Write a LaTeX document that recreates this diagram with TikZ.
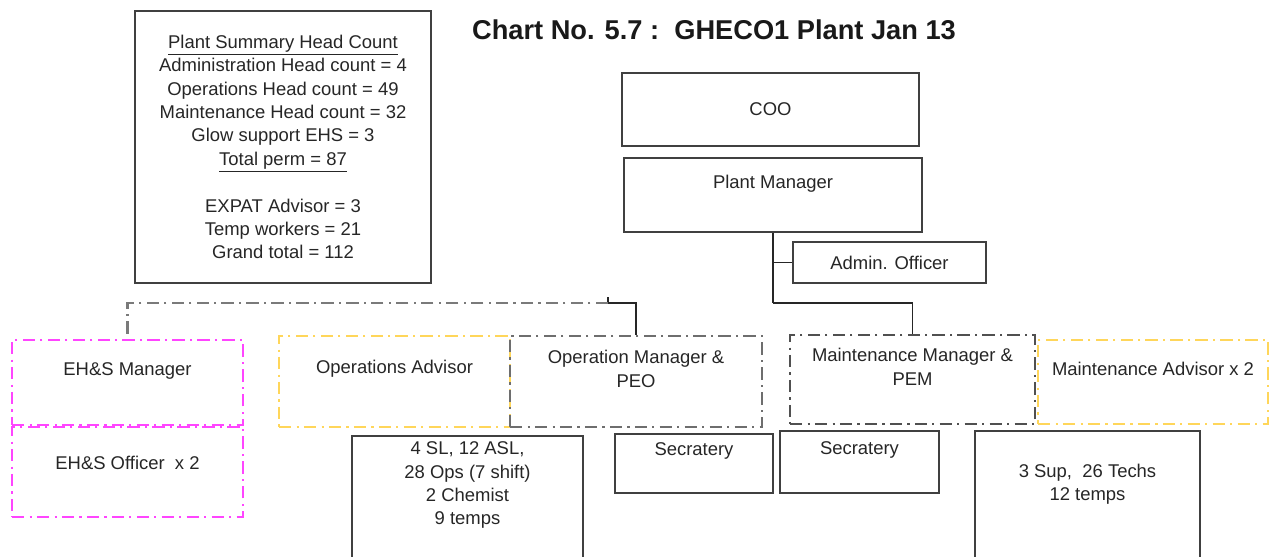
\documentclass[tikz,border=0pt]{standalone}
\usepackage{fontspec}
\setsansfont{Liberation Sans}
\usetikzlibrary{positioning, calc}

\definecolor{ehsmagenta}{HTML}{FF45FF}
\definecolor{advyellow}{HTML}{FFD65A}
\definecolor{mgrgray}{HTML}{6E6E6E}
\definecolor{maintgray}{HTML}{505050}
\definecolor{linegray}{HTML}{7A7A7A}

\begin{document}
\begin{tikzpicture}[
		x=0.02cm, y=-0.02cm,
		font=\sffamily\fontsize{10.5}{13.3}\selectfont,
		% Box styles
		solidbox/.style={draw=black!75, line width=0.85pt, inner sep=0pt, align=center, text=black!85},
		dashbox/.style={line width=1.3pt, inner sep=0pt, dash pattern=on 7pt off 3pt on 1.2pt off 3pt},
		ehsbox/.style={dashbox, draw=ehsmagenta},
		advbox/.style={dashbox, draw=advyellow},
		mgrbox/.style={dashbox, draw=mgrgray},
		maintbox/.style={dashbox, draw=maintgray},
		boxtext/.style={align=center, text=black!85, inner sep=0pt},
		% Connector styles
		orgline/.style={draw=black!85, line width=0.85pt},
		ehsline/.style={draw=linegray, line width=1.4pt, dash pattern=on 7pt off 3pt on 1.2pt off 3pt}
		]
		
		\useasboundingbox (0,0) rectangle (1276,557);
		\clip (0,0) rectangle (1276,557);
		
		% --- TITLE AND SUMMARY ---
		\node[font=\sffamily\bfseries\fontsize{15.5}{18}\selectfont, text=black!90] (title) at (714,30) {Chart No. 5.7 :\ \ GHECO1 Plant Jan 13};
		
		\node[solidbox, minimum width=5.92cm, minimum height=5.44cm] (summary) at (283,147) {
			\underline{Plant Summary Head Count}\\
			Administration Head count = 4\\
			Operations Head count = 49\\
			Maintenance Head count = 32\\
			Glow support EHS = 3\\
			\underline{Total perm = 87}\\[13.3pt]
			EXPAT Advisor = 3\\
			Temp workers = 21\\
			Grand total = 112};
		
		% --- TOP OF THE TREE ---
		\node[solidbox, minimum width=5.94cm, minimum height=1.46cm] (coo) at (770.5,109.5) {COO};
		
		\node[solidbox, minimum width=5.96cm, minimum height=1.48cm] (pm) at (773,195) {};
		\node[boxtext] (pmT) at ($(pm.north)+(0,26)$) {Plant Manager};
		
		\node[solidbox, minimum width=3.86cm, minimum height=0.82cm] (admin) at (889.5,262.5) {Admin. Officer};
		
		% --- MANAGER ROW ---
		\node[ehsbox, minimum width=4.62cm, minimum height=1.70cm] (ehsm) at (127.5,382.5) {};
		\node[boxtext] (ehsmT) at ($(ehsm.north)+(0,32)$) {EH\&S Manager};
		
		\node[ehsbox, minimum width=4.62cm, minimum height=1.80cm] (ehso) at (127.5,472) {};
		\node[boxtext] (ehsoT) at ($(ehso.north)+(0,37)$) {EH\&S Officer\ \ x 2};
		
		\node[advbox, minimum width=4.62cm, minimum height=1.82cm] (opsadv) at (394.5,381.5) {};
		\node[boxtext] (opsadvT) at ($(opsadv.north)+(0,34)$) {Operations Advisor};
		
		\node[mgrbox, minimum width=5.04cm, minimum height=1.82cm] (opm) at (636,381.5) {};
		\node[boxtext] (opmT) at ($(opm.north)+(0,34)$) {Operation Manager \&\\PEO};
		
		\node[maintbox, minimum width=4.90cm, minimum height=1.78cm] (mm) at (912.5,379.5) {};
		\node[boxtext] (mmT) at ($(mm.north)+(0,33)$) {Maintenance Manager \&\\PEM};
		
		\node[advbox, minimum width=4.60cm, minimum height=1.68cm] (mntadv) at (1153,382) {};
		\node[boxtext] (mntadvT) at ($(mntadv.north)+(0,30)$) {Maintenance Advisor x 2};
		
		% --- STAFF ROW ---
		\node[solidbox, minimum width=4.62cm, minimum height=3.28cm] (opscrew) at (467.5,518) {};
		\node[boxtext] (opscrewT) at ($(opscrew.north)+(0,50)$) {4 SL, 12 ASL,\\28 Ops (7 shift)\\2 Chemist\\9 temps};
		
		\node[solidbox, minimum width=3.16cm, minimum height=1.18cm] (sec1) at (694,463.5) {};
		\node[boxtext] (sec1T) at ($(sec1.north)+(0,18)$) {Secratery};
		
		\node[solidbox, minimum width=3.18cm, minimum height=1.24cm] (sec2) at (859.5,462) {};
		\node[boxtext] (sec2T) at ($(sec2.north)+(0,20)$) {Secratery};
		
		\node[solidbox, minimum width=4.50cm, minimum height=3.38cm] (mntcrew) at (1087.5,515.5) {};
		\node[boxtext] (mntcrewT) at ($(mntcrew.north)+(0,54)$) {3 Sup,\ \ 26 Techs\\12 temps};
		
		% --- CONNECTIONS ---
		\coordinate (hub) at (773,303);
		\coordinate (jL) at (608,303);
		
		\draw[orgline] (pm.south) -- (hub);
		\draw[orgline] (pm.south |- admin.west) -- (admin.west);
		\draw[orgline] (mm.north) |- (hub);
		\draw[orgline] (opm.north) |- (jL) -- ++(0,-6);
		\draw[ehsline] (jL) -| (ehsm.north);
		
	\end{tikzpicture}
\end{document}
